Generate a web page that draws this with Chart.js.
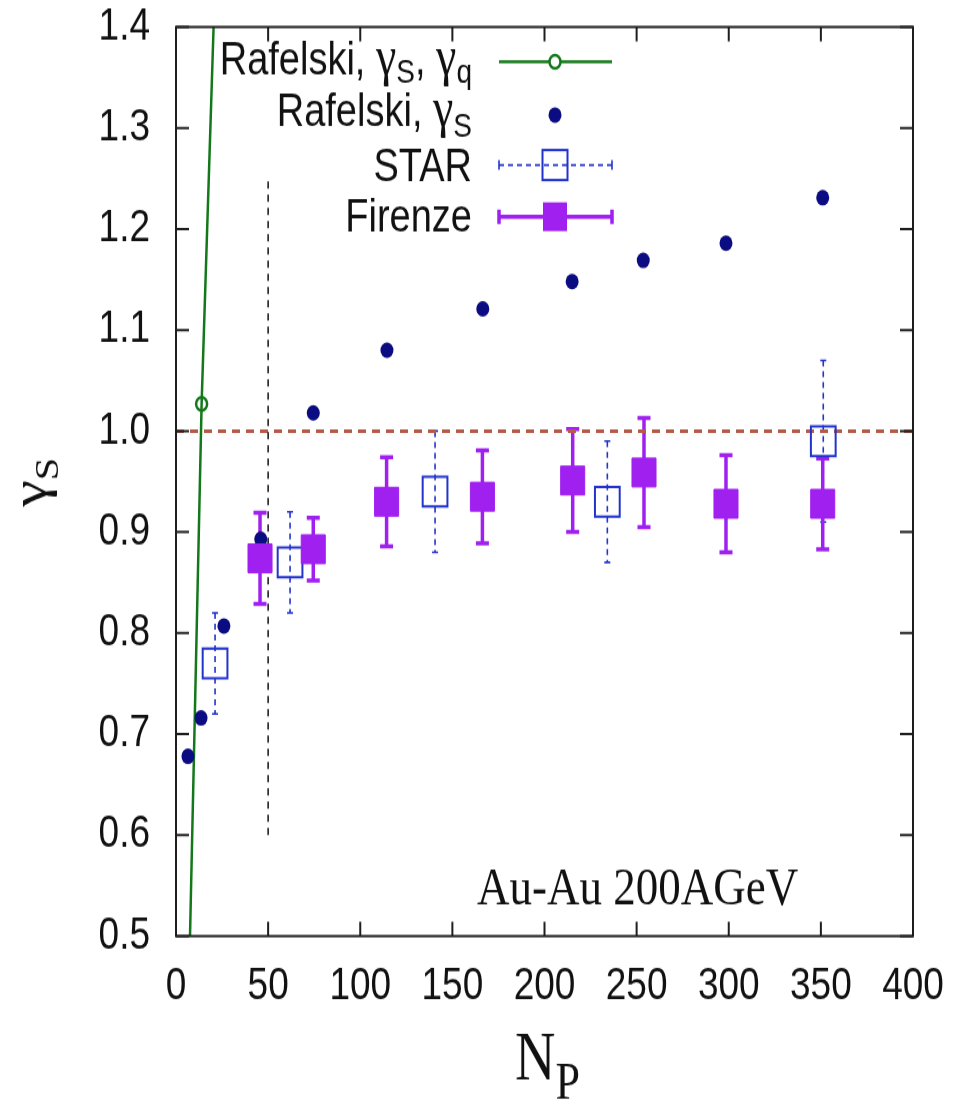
<!DOCTYPE html>
<html>
<head>
<meta charset="utf-8">
<script src="https://cdn.jsdelivr.net/npm/chart.js@4.4.1/dist/chart.umd.min.js"></script>
<style>
  html, body { margin: 0; padding: 0; background: #fff; }
</style>
</head>
<body>
<!-- drawn at 957x918 and shown a bit taller, like the printed figure -->
<canvas id="plot" width="957" height="918" style="display:block;width:957px;height:1101px"></canvas>
<script>
// Rafelski fit with gamma_S and gamma_q free (line, one marked point)
var rafQX = [7.6, 13.9, 20.4];
var rafQY = [0.5, 1.027, 1.4];
var rafQMark = [0, 5.5, 0];

// Rafelski fit, gamma_S only
var rafX = [6.5, 13.6, 26, 46, 74.5, 114.5, 166.5, 215, 253.6, 298.5, 351];
var rafY = [0.678, 0.716, 0.807, 0.893, 1.018, 1.080, 1.121, 1.148, 1.169, 1.186, 1.231];

// STAR
var starX = [21.2, 61.9, 140.6, 234.1, 351.3];
var starY = [0.770, 0.870, 0.940, 0.930, 0.990];
var starErr = [0.05, 0.05, 0.06, 0.06, 0.08];

// Firenze
var firX = [45.6, 74.5, 114.3, 166.3, 215.3, 254, 298.5, 351];
var firY = [0.874, 0.883, 0.930, 0.935, 0.951, 0.959, 0.928, 0.928];
var firErr = [0.045, 0.031, 0.044, 0.046, 0.051, 0.054, 0.048, 0.045];

// reference lines
var unityX = [0, 400], unityY = [1.0, 1.0];
var cutX = [50, 50], cutY = [0.6, 1.25];

var xTickValues = [0, 50, 100, 150, 200, 250, 300, 350, 400];
var yTickValues = [0.5, 0.6, 0.7, 0.8, 0.9, 1.0, 1.1, 1.2, 1.3, 1.4];

var GREEN = '#13781a', NAVY = '#0c0c82', BLUE = '#2233cc', PURPLE = '#a020f0';
var SANS = '"Liberation Sans", Arial, sans-serif';
var SERIF = '"Liberation Serif", "Times New Roman", serif';

function pts(xs, ys) {
  return xs.map(function(x, i) { return { x: x, y: ys[i] }; });
}

function drawErrorBars(chart, xs, ys, errs, st) {
  var ctx = chart.ctx, sx = chart.scales.x, sy = chart.scales.y;
  ctx.save();
  ctx.strokeStyle = st.color;
  ctx.lineWidth = st.width;
  for (var i = 0; i < xs.length; i++) {
    var px = sx.getPixelForValue(xs[i]);
    var top = sy.getPixelForValue(ys[i] + errs[i]);
    var bot = sy.getPixelForValue(ys[i] - errs[i]);
    ctx.setLineDash(st.dash || []);
    ctx.beginPath(); ctx.moveTo(px, top); ctx.lineTo(px, bot); ctx.stroke();
    ctx.setLineDash([]);
    ctx.beginPath();
    ctx.moveTo(px - st.cap, top); ctx.lineTo(px + st.cap, top);
    ctx.moveTo(px - st.cap, bot); ctx.lineTo(px + st.cap, bot);
    ctx.stroke();
  }
  ctx.restore();
}

// text made of pieces in different fonts (subscripts etc.)
function drawRich(ctx, segs, x, y, align) {
  var w = 0;
  segs.forEach(function(s) { ctx.font = s.font; w += ctx.measureText(s.t).width; });
  var cx = align === 'right' ? x - w : (align === 'center' ? x - w / 2 : x);
  ctx.textAlign = 'left';
  ctx.textBaseline = 'alphabetic';
  segs.forEach(function(s) {
    ctx.font = s.font;
    ctx.fillText(s.t, cx, y + (s.dy || 0));
    cx += ctx.measureText(s.t).width;
  });
}

// no automatic room for overhanging tick labels; layout padding decides
function noPad(s) {
  s.paddingTop = 0; s.paddingBottom = 0; s.paddingLeft = 0; s.paddingRight = 0;
}

var errorBars = {
  id: 'errorBars',
  beforeDatasetsDraw: function(chart) {
    drawErrorBars(chart, starX, starY, starErr, { color: BLUE, width: 1.6, dash: [5, 4], cap: 3 });
    drawErrorBars(chart, firX, firY, firErr, { color: PURPLE, width: 3.5, cap: 6.5 });
  }
};

var frame = {
  id: 'frame',
  afterDraw: function(chart) {
    var ctx = chart.ctx, a = chart.chartArea, sx = chart.scales.x, sy = chart.scales.y;
    ctx.save();
    ctx.strokeStyle = '#1e1e1e';
    ctx.lineWidth = 2;
    ctx.strokeRect(a.left, a.top, a.right - a.left, a.bottom - a.top);
    ctx.beginPath();
    xTickValues.forEach(function(v) {
      var px = sx.getPixelForValue(v);
      ctx.moveTo(px, a.bottom); ctx.lineTo(px, a.bottom - 12);
      ctx.moveTo(px, a.top); ctx.lineTo(px, a.top + 12);
    });
    yTickValues.forEach(function(v) {
      var py = sy.getPixelForValue(v);
      ctx.moveTo(a.left, py); ctx.lineTo(a.left + 13, py);
      ctx.moveTo(a.right, py); ctx.lineTo(a.right - 13, py);
    });
    ctx.stroke();
    ctx.restore();

    ctx.save();
    ctx.fillStyle = '#111';
    var big = '38px ' + SANS, sub = '28px ' + SANS, g = '46px ' + SERIF;

    // key, text right aligned, samples to the right
    var tx = 472, x0 = 499, x1 = 612, xm = 555;
    var rows = [51.4, 95.9, 137.6, 180.7];
    drawRich(ctx, [
      { t: 'Rafelski, ', font: big }, { t: 'γ', font: g }, { t: 'S', font: sub, dy: 7 },
      { t: ', ', font: big }, { t: 'γ', font: g }, { t: 'q', font: sub, dy: 7 }
    ], tx, rows[0] + 11, 'right');
    drawRich(ctx, [
      { t: 'Rafelski, ', font: big }, { t: 'γ', font: g }, { t: 'S', font: sub, dy: 9 }
    ], tx, rows[1] + 9, 'right');
    drawRich(ctx, [{ t: 'STAR', font: big }], tx, rows[2] + 13, 'right');
    drawRich(ctx, [{ t: 'Firenze', font: big }], tx, rows[3] + 12, 'right');

    // green line sample
    ctx.strokeStyle = GREEN; ctx.lineWidth = 2.5;
    ctx.beginPath(); ctx.moveTo(x0, rows[0]); ctx.lineTo(x1, rows[0]); ctx.stroke();
    ctx.beginPath(); ctx.arc(xm, rows[0], 5.5, 0, Math.PI * 2); ctx.fillStyle = '#fff'; ctx.fill(); ctx.stroke();
    // dot sample
    ctx.fillStyle = NAVY;
    ctx.beginPath(); ctx.arc(xm, rows[1], 6.5, 0, Math.PI * 2); ctx.fill();
    // STAR sample
    ctx.strokeStyle = BLUE; ctx.lineWidth = 1.6; ctx.setLineDash([5, 4]);
    ctx.beginPath(); ctx.moveTo(x0, rows[2]); ctx.lineTo(x1, rows[2]); ctx.stroke();
    ctx.setLineDash([]);
    ctx.beginPath();
    ctx.moveTo(x0, rows[2] - 4); ctx.lineTo(x0, rows[2] + 4);
    ctx.moveTo(x1, rows[2] - 4); ctx.lineTo(x1, rows[2] + 4);
    ctx.stroke();
    ctx.lineWidth = 2;
    ctx.strokeRect(xm - 12.5, rows[2] - 12.5, 25, 25);
    // Firenze sample
    ctx.strokeStyle = PURPLE; ctx.fillStyle = PURPLE; ctx.lineWidth = 3.5;
    ctx.beginPath(); ctx.moveTo(x0, rows[3]); ctx.lineTo(x1, rows[3]);
    ctx.moveTo(x0, rows[3] - 6); ctx.lineTo(x0, rows[3] + 6);
    ctx.moveTo(x1, rows[3] - 6); ctx.lineTo(x1, rows[3] + 6);
    ctx.stroke();
    ctx.fillRect(xm - 12, rows[3] - 12, 24, 24);

    // system label
    ctx.fillStyle = '#111';
    drawRich(ctx, [{ t: 'Au-Au 200AGeV', font: '45px ' + SERIF }], 477, 754, 'left');

    // axis titles
    drawRich(ctx, [
      { t: 'N', font: '56px ' + SERIF }, { t: 'P', font: '44px ' + SERIF, dy: 16 }
    ], 515, 900, 'left');
    ctx.translate(38, 402);
    ctx.rotate(-Math.PI / 2);
    drawRich(ctx, [
      { t: 'γ', font: '50px ' + SERIF }, { t: 'S', font: '34px ' + SERIF, dy: 12 }
    ], 0, 8, 'center');
    ctx.restore();
  }
};

new Chart(document.getElementById('plot'), {
  type: 'scatter',
  data: {
    datasets: [
      {
        label: 'Firenze', data: pts(firX, firY), order: 1,
        pointStyle: 'rect', pointRadius: 17, pointBackgroundColor: PURPLE,
        pointBorderColor: PURPLE, pointBorderWidth: 1
      },
      {
        label: 'STAR', data: pts(starX, starY), order: 2,
        pointStyle: 'rect', pointRadius: 17.5, pointBackgroundColor: 'rgba(0,0,0,0)',
        pointBorderColor: BLUE, pointBorderWidth: 2
      },
      {
        label: 'Rafelski, γS', data: pts(rafX, rafY), order: 3,
        pointStyle: 'circle', pointRadius: 6.5, pointBackgroundColor: NAVY, pointBorderWidth: 0
      },
      {
        label: 'Rafelski, γS, γq', data: pts(rafQX, rafQY), order: 4,
        showLine: true, borderColor: GREEN, borderWidth: 2.5,
        pointRadius: rafQMark, pointBorderColor: GREEN, pointBorderWidth: 2.5,
        pointBackgroundColor: 'rgba(255,255,255,0)'
      },
      {
        label: 'cut', data: pts(cutX, cutY), order: 5,
        showLine: true, borderColor: '#111', borderWidth: 1.5, borderDash: [6, 5], pointRadius: 0
      },
      {
        label: 'unity', data: pts(unityX, unityY), order: 6,
        showLine: true, borderColor: '#b65a48', borderWidth: 3, borderDash: [8, 6], pointRadius: 0
      }
    ]
  },
  options: {
    responsive: false,
    devicePixelRatio: 1,
    animation: false,
    layout: { padding: { top: 22.5, right: 44, bottom: 0, left: 0 } },
    plugins: { legend: { display: false }, tooltip: { enabled: false } },
    scales: {
      x: {
        type: 'linear', min: 0, max: 400,
        afterBuildTicks: function(s) { s.ticks = xTickValues.map(function(v) { return { value: v }; }); },
        afterFit: function(s) { s.height = 137.5; noPad(s); },
        grid: { display: false, drawTicks: false },
        border: { display: false },
        ticks: { padding: 20, color: '#111', font: { family: SANS, size: 37 },
                 callback: function(v) { return String(v); } }
      },
      y: {
        type: 'linear', min: 0.5, max: 1.4,
        afterBuildTicks: function(s) { s.ticks = yTickValues.map(function(v) { return { value: v }; }); },
        afterFit: function(s) { s.width = 176; noPad(s); },
        grid: { display: false, drawTicks: false },
        border: { display: false },
        ticks: { padding: 26, color: '#111', font: { family: SANS, size: 37 },
                 callback: function(v) { return v.toFixed(1); } }
      }
    }
  },
  plugins: [errorBars, frame]
});
</script>
</body>
</html>
